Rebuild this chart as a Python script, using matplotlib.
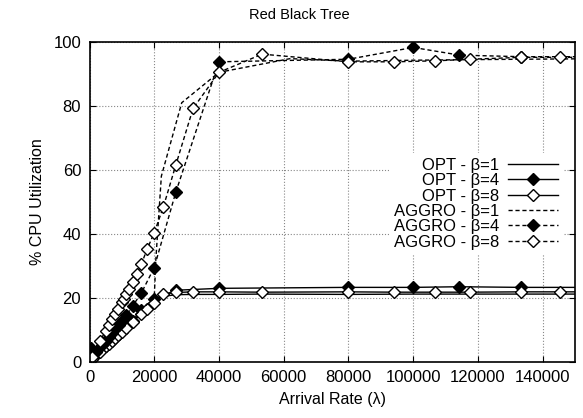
import matplotlib
matplotlib.use("Agg")
import matplotlib.pyplot as plt

plt.rcParams['font.family'] = ['Liberation Sans', 'DejaVu Sans']

# OPT - beta=1 (solid, no markers)
opt1_x = [500, 2000, 4000, 6000, 8000, 10000, 12000, 14000, 16000, 18000, 20000,
          22857, 26667, 32000, 40000, 53333, 80000, 100000, 133333, 160000]
opt1_y = [0.5, 1.9, 3.8, 5.7, 7.6, 9.5, 11.4, 13.3, 15.2, 17.1, 19.2,
          20.4, 20.9, 21.0, 21.0, 21.1, 21.0, 21.1, 21.1, 21.1]

# OPT - beta=4 (solid, filled diamonds)
opt4_x = [300, 2000, 4000, 5000, 6000, 7000, 8000, 9000, 10000, 11429, 13333, 16000,
          20000, 26667, 40000, 80000, 100000, 114286, 133333, 160000]
opt4_y = [1.3, 2.0, 3.9, 4.8, 5.8, 6.7, 7.7, 8.6, 9.6, 11.0, 12.8, 16.2,
          19.6, 22.3, 22.9, 23.2, 23.2, 23.4, 23.2, 23.2]

# OPT - beta=8 (solid, hollow diamonds)
opt8_x = [800, 3200, 5000, 6000, 7000, 8000, 8889, 10000, 11429, 13333, 16000, 17778,
          20000, 22857, 26667, 32000, 40000, 53333, 80000, 94118, 106667, 117647,
          133333, 145455, 160000]
opt8_y = [0.8, 3.0, 4.7, 5.6, 6.5, 7.4, 8.3, 9.3, 10.6, 12.4, 14.9, 16.5,
          18.3, 21.1, 21.6, 21.8, 21.8, 21.7, 21.8, 21.7, 21.7, 21.7,
          21.8, 21.8, 21.8]

# AGGRO - beta=1 (dashed, no markers)
agg1_x = [500, 4000, 8000, 12000, 16000, 20000, 20500, 22200, 28500, 40000,
          62000, 80000, 100000, 120000, 160000]
agg1_y = [0.8, 4.5, 8.5, 12.5, 16.3, 19.8, 32.0, 58.0, 81.0, 90.5,
          94.8, 94.0, 94.3, 94.5, 94.8]

# AGGRO - beta=4 (dashed, filled diamonds)
agg4_x = [400, 2000, 4000, 5000, 6000, 7000, 8000, 9000, 10000, 11429, 13333, 16000,
          20000, 26667, 40000, 80000, 100000, 114286, 133333, 160000]
agg4_y = [4.1, 3.0, 5.3, 6.5, 7.8, 9.0, 10.3, 11.5, 12.7, 14.5, 17.4, 21.4,
          29.4, 53.0, 93.8, 94.6, 98.3, 95.9, 95.4, 95.4]

# AGGRO - beta=8 (dashed, hollow diamonds)
agg8_x = [800, 3200, 5000, 6000, 7000, 8000, 8889, 10000, 10667, 11429, 12308, 13333,
          14545, 16000, 17778, 20000, 22857, 26667, 32000, 40000, 53333, 80000,
          94118, 106667, 117647, 133333, 145455, 160000]
agg8_y = [1.5, 6.5, 9.5, 11.5, 13.2, 15.0, 16.5, 18.5, 19.6, 21.0, 22.8, 25.0,
          27.3, 30.4, 35.1, 40.3, 48.5, 61.5, 79.2, 90.5, 96.2, 93.8,
          93.8, 94.1, 94.6, 95.2, 95.2, 95.2]

x_ticks = [0, 20000, 40000, 60000, 80000, 100000, 120000, 140000]
y_ticks = [0, 20, 40, 60, 80, 100]

fig = plt.figure(figsize=(5.83, 4.18), dpi=100)
ax = fig.add_axes([89.5 / 583, 1 - 361.5 / 418, 485.5 / 583, 319.5 / 418])

dash = (0, (3, 2))
ms = 6
ax.plot(opt1_x, opt1_y, color='black', lw=1, label='OPT - \u03b2=1')
ax.plot(opt4_x, opt4_y, color='black', lw=1, marker='D', ms=ms,
        mfc='black', mec='black', label='OPT - \u03b2=4')
ax.plot(opt8_x, opt8_y, color='black', lw=1, marker='D', ms=ms,
        mfc='white', mec='black', label='OPT - \u03b2=8')
ax.plot(agg1_x, agg1_y, color='black', lw=1, ls=dash, label='AGGRO - \u03b2=1')
ax.plot(agg4_x, agg4_y, color='black', lw=1, ls=dash, marker='D', ms=ms,
        mfc='black', mec='black', label='AGGRO - \u03b2=4')
ax.plot(agg8_x, agg8_y, color='black', lw=1, ls=dash, marker='D', ms=ms,
        mfc='white', mec='black', label='AGGRO - \u03b2=8')

ax.set_xlim(0, 150000)
ax.set_ylim(0, 100)
ax.set_xticks(x_ticks)
ax.set_yticks(y_ticks)
ax.tick_params(direction='in', top=True, right=True, length=4, labelsize=12, pad=6)
ax.grid(True, ls=':', color='#888888', lw=0.8)
ax.set_axisbelow(True)
for s in ax.spines.values():
    s.set_linewidth(1.2)

# gnuplot centres the title on the whole canvas
fig.text(299 / 583, 1 - 15 / 418, 'Red Black Tree', fontsize=10.5,
         ha='center', va='center')
ax.set_xlabel('Arrival Rate (\u03bb)', fontsize=11.5, labelpad=5)
ax.set_ylabel('% CPU Utilization', fontsize=11.5, labelpad=6)

leg = ax.legend(loc='upper right', bbox_to_anchor=(0.975, 0.653), markerfirst=False,
                fontsize=12, frameon=True, fancybox=False, edgecolor='none',
                framealpha=1, borderpad=0.3, borderaxespad=0, handlelength=3.0,
                handletextpad=0.5, labelspacing=0.02)

fig.savefig('out.png', dpi=100)
